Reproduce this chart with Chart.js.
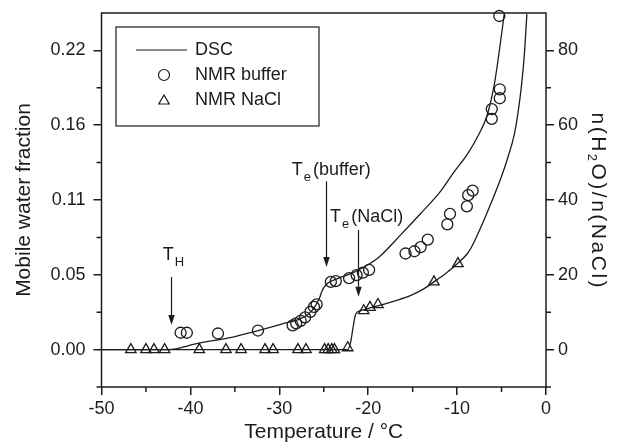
<!DOCTYPE html>
<html>
<head>
<meta charset="utf-8">
<script src="https://cdn.jsdelivr.net/npm/chart.js@4.4.1/dist/chart.umd.min.js"></script>
<style>
  html, body { margin: 0; padding: 0; background: #fff; }
  #wrap { width: 618px; height: 443px; }
</style>
</head>
<body>
<div id="wrap"><canvas id="chart" width="618" height="443"></canvas></div>
<script>
(function () {
  'use strict';

  var INK = '#1c1c1c';
  var FONT = "'Liberation Sans', Arial, Helvetica, sans-serif";

  // axis ticks
  var xMajor = [-50, -40, -30, -20, -10, 0];
  var xMinor = [-45, -35, -25, -15, -5];
  var nMajor = [0, 20, 40, 60, 80];
  var nMinor = [-10, 10, 30, 50, 70];
  var fractionLabels = ['0.00', '0.05', '0.11', '0.16', '0.22'];

  // DSC curves (temperature, n(H2O)/n(NaCl))
  var dscBufferT = [-50, -42.5, -39.2, -35.1, -32.9, -29.5, -27.6, -26.3, -25.5, -25.15, -24.6, -23.45,
    -21.95, -20.45, -18.8, -16.3, -14.1, -11.8, -10.4, -8.8, -7.7, -6.6, -5.8, -5.25, -4.7];
  var dscBufferN = [0, 0, 1.65, 3.4, 4.75, 7.0, 8.3, 10.5, 13.65, 15.9, 17.65, 19.0,
    20.3, 22.1, 24.7, 30.8, 36.4, 42.5, 47.3, 52.4, 56.9, 62.8, 71.1, 79.9, 89.7];

  var dscNaclT = [-50, -22.3, -21.95, -21.75, -21.4, -20.85, -19.7, -18.6, -16.9, -15.2, -13.85, -12.6,
    -11.25, -9.95, -8.9, -8.45, -6.95, -5.05, -4.3, -3.55, -3.15, -2.8, -2.45, -2.15];
  var dscNaclN = [0, 0, 2.3, 5.2, 9.5, 10.4, 11.2, 11.9, 13.1, 14.5, 16.1, 18.1,
    20.4, 23.0, 25.5, 27.1, 34.8, 46.0, 51.3, 57.7, 63.3, 69.7, 78.5, 89.7];

  // NMR points
  var nmrBufferT = [-41.1, -40.4, -36.9, -32.4, -28.5, -28.1, -27.6, -27.1, -26.5, -26.1, -25.8,
    -24.2, -23.65, -22.15, -21.3, -20.6, -19.9, -15.8, -14.8, -14.1, -13.3, -11.1, -10.8,
    -8.9, -8.75, -8.25, -6.1, -6.1, -5.2, -5.2, -5.25];
  var nmrBufferN = [4.5, 4.5, 4.3, 5.1, 6.5, 7.0, 7.7, 8.6, 10.1, 11.4, 12.1,
    18.1, 18.3, 19.1, 19.9, 20.6, 21.3, 25.7, 26.3, 27.4, 29.4, 33.5, 36.3,
    38.3, 41.3, 42.5, 61.7, 64.3, 67.2, 69.6, 89.2];

  var nmrNaclT = [-46.7, -45.0, -44.1, -42.9, -39.0, -36.0, -34.3, -31.6, -30.7, -27.9, -27.0,
    -24.9, -24.5, -24.1, -23.8, -22.3, -20.5, -19.8, -18.9, -12.6, -9.9];
  var nmrNaclN = [0, 0, 0, 0, 0, 0, 0, 0, 0, 0, 0,
    0, 0, 0, 0, 0.5, 10.4, 11.3, 12.05, 18.1, 23.0];

  // arrow notes: label anchor (tx, ty) and arrow at temperature ax from n=from to n=to
  var notes = [
    { main: 'T', sub: 'H', rest: '', tx: -43.1, ty: 24, ax: -42.2, from: 19.4, to: 6.6 },
    { main: 'T', sub: 'e', rest: '(buffer)', tx: -28.6, ty: 46.7, ax: -24.8, from: 45, to: 22.1 },
    { main: 'T', sub: 'e', rest: '(NaCl)', tx: -24.3, ty: 34.1, ax: -21.2, from: 32, to: 14.1 }
  ];

  function pairs(xs, ys) {
    return xs.map(function (x, i) { return { x: x, y: ys[i] }; });
  }

  function setFont(ctx, p) {
    ctx.font = (p.sub ? '13px ' : p.size + 'px ') + FONT;
  }

  // width of a run of text, with optional spacing between letters
  function runWidth(ctx, p) {
    var sp = p.spacing || 0;
    return ctx.measureText(p.t).width + sp * p.t.length;
  }

  // text with a lowered subscript, left aligned on the baseline
  function drawParts(ctx, parts, x, y) {
    parts.forEach(function (p) {
      setFont(ctx, p);
      x += p.pre || 0;
      var sp = p.spacing || 0;
      if (sp) {
        for (var i = 0; i < p.t.length; i++) {
          ctx.fillText(p.t[i], x, y + (p.sub ? 6 : 0));
          x += ctx.measureText(p.t[i]).width + sp;
        }
      } else {
        ctx.fillText(p.t, x, y + (p.sub ? 6 : 0));
        x += ctx.measureText(p.t).width;
      }
      x += p.post || 0;
    });
    return x;
  }

  function partsWidth(ctx, parts) {
    var w = 0;
    parts.forEach(function (p) {
      setFont(ctx, p);
      w += (p.pre || 0) + runWidth(ctx, p) + (p.post || 0);
    });
    return w;
  }

  function strokeCircle(ctx, x, y, r) {
    ctx.beginPath();
    ctx.arc(x, y, r, 0, Math.PI * 2);
    ctx.stroke();
  }

  function strokeTriangle(ctx, x, y, r) {
    ctx.beginPath();
    for (var k = 0; k < 3; k++) {
      var a = k * 2 * Math.PI / 3;
      var px = x + Math.sin(a) * r, py = y - Math.cos(a) * r;
      if (k === 0) ctx.moveTo(px, py); else ctx.lineTo(px, py);
    }
    ctx.closePath();
    ctx.stroke();
  }

  // frame round the plot and the short minor ticks
  var frame = {
    id: 'frame',
    afterDatasetsDraw: function (chart) {
      var ctx = chart.ctx, a = chart.chartArea;
      var sx = chart.scales.x, sr = chart.scales.yR;
      ctx.save();
      ctx.strokeStyle = INK;
      ctx.lineWidth = 1.5;
      ctx.strokeRect(a.left, a.top, a.right - a.left, a.bottom - a.top);
      ctx.beginPath();
      xMinor.forEach(function (v) {
        var px = sx.getPixelForValue(v);
        ctx.moveTo(px, a.bottom);
        ctx.lineTo(px, a.bottom + 5);
      });
      nMinor.forEach(function (v) {
        var py = sr.getPixelForValue(v);
        ctx.moveTo(a.left, py);
        ctx.lineTo(a.left - 5, py);
        ctx.moveTo(a.right, py);
        ctx.lineTo(a.right + 5, py);
      });
      ctx.stroke();
      ctx.restore();
    }
  };

  var arrows = {
    id: 'arrows',
    afterDatasetsDraw: function (chart) {
      var ctx = chart.ctx, sx = chart.scales.x, sr = chart.scales.yR;
      ctx.save();
      ctx.strokeStyle = INK;
      ctx.fillStyle = INK;
      ctx.lineWidth = 1.2;
      ctx.textBaseline = 'alphabetic';
      notes.forEach(function (n) {
        var x = Math.round(sx.getPixelForValue(n.ax)) + 0.5;
        var y0 = sr.getPixelForValue(n.from), y1 = sr.getPixelForValue(n.to);
        ctx.beginPath();
        ctx.moveTo(x, y0);
        ctx.lineTo(x, y1 - 8);
        ctx.stroke();
        ctx.beginPath();
        ctx.moveTo(x, y1);
        ctx.lineTo(x - 3.2, y1 - 10);
        ctx.lineTo(x + 3.2, y1 - 10);
        ctx.closePath();
        ctx.fill();
        drawParts(ctx, [
          { t: n.main, size: 18 },
          { t: n.sub, sub: true, pre: 1, post: 2 },
          { t: n.rest, size: 18 }
        ], sx.getPixelForValue(n.tx), sr.getPixelForValue(n.ty));
      });
      ctx.restore();
    }
  };

  var legendBox = {
    id: 'legendBox',
    afterDraw: function (chart) {
      var ctx = chart.ctx, a = chart.chartArea;
      var bx = a.left + 14.5, by = a.top + 14, bw = 203, bh = 99;
      var sets = chart.data.datasets;
      var rows = [sets[0], sets[2], sets[3]];
      ctx.save();
      ctx.strokeStyle = INK;
      ctx.fillStyle = INK;
      ctx.lineWidth = 1.2;
      ctx.strokeRect(bx, by, bw, bh);
      ctx.font = '18px ' + FONT;
      ctx.textBaseline = 'middle';
      rows.forEach(function (ds, i) {
        var cy = by + 23 + i * 25;
        var cx = bx + 48;
        if (ds.type === 'line') {
          ctx.beginPath();
          ctx.moveTo(bx + 20, cy);
          ctx.lineTo(bx + 71, cy);
          ctx.stroke();
        } else if (ds.pointStyle === 'triangle') {
          strokeTriangle(ctx, cx, cy + 1, ds.pointRadius);
        } else {
          strokeCircle(ctx, cx, cy, ds.pointRadius);
        }
        ctx.fillText(ds.label, bx + 79, cy);
      });
      ctx.restore();
    }
  };

  // right axis title with subscript, rotated to read downwards
  var rightTitle = {
    id: 'rightTitle',
    afterDraw: function (chart) {
      var ctx = chart.ctx, a = chart.chartArea;
      var parts = [
        { t: 'n(H', size: 21, spacing: 2.5 },
        { t: '2', sub: true, post: 2.5 },
        { t: 'O)/n(NaCl)', size: 21, spacing: 2.5 }
      ];
      ctx.save();
      ctx.fillStyle = INK;
      ctx.textBaseline = 'middle';
      ctx.translate(a.right + 52, (a.top + a.bottom) / 2);
      ctx.rotate(Math.PI / 2);
      var w = partsWidth(ctx, parts) - 2.5;
      drawParts(ctx, parts, -w / 2, 0);
      ctx.restore();
    }
  };

  // keep the plot box where the layout puts it, without room for half labels
  function noEdgePadding(s) {
    s.paddingTop = 0;
    s.paddingBottom = 0;
  }

  var tickFont = { family: FONT, size: 18 };
  var gridOpts = { drawOnChartArea: false, tickLength: 8, color: INK, lineWidth: 1.5 };

  new Chart(document.getElementById('chart'), {
    type: 'scatter',
    data: {
      datasets: [
        {
          type: 'line', label: 'DSC', data: pairs(dscBufferT, dscBufferN), yAxisID: 'yR',
          borderColor: INK, borderWidth: 1.3, pointRadius: 0, fill: false,
          cubicInterpolationMode: 'monotone'
        },
        {
          type: 'line', label: 'DSC', data: pairs(dscNaclT, dscNaclN), yAxisID: 'yR',
          borderColor: INK, borderWidth: 1.3, pointRadius: 0, fill: false,
          cubicInterpolationMode: 'monotone'
        },
        {
          label: 'NMR buffer', data: pairs(nmrBufferT, nmrBufferN), yAxisID: 'yR',
          pointStyle: 'circle', pointRadius: 5.5, pointBorderWidth: 1.3,
          pointBorderColor: INK, pointBackgroundColor: 'rgba(255,255,255,0)', clip: false
        },
        {
          label: 'NMR NaCl', data: pairs(nmrNaclT, nmrNaclN), yAxisID: 'yR',
          pointStyle: 'triangle', pointRadius: 6, pointBorderWidth: 1.3,
          pointBorderColor: INK, pointBackgroundColor: 'rgba(255,255,255,0)', clip: false
        }
      ]
    },
    options: {
      responsive: false,
      animation: false,
      devicePixelRatio: 1,
      layout: { padding: { top: 13, left: 0, right: 0, bottom: 0 } },
      plugins: { legend: { display: false }, tooltip: { enabled: false } },
      scales: {
        x: {
          type: 'linear', position: 'bottom', min: -50, max: 0,
          afterBuildTicks: function (s) { s.ticks = xMajor.map(function (v) { return { value: v }; }); },
          afterFit: function (s) { s.height = 56; s.paddingLeft = 0; s.paddingRight = 0; },
          ticks: { color: INK, font: tickFont, padding: 3, maxRotation: 0, autoSkip: false },
          grid: gridOpts,
          border: { display: false },
          title: {
            display: true, text: 'Temperature / °C', color: INK,
            font: { family: FONT, size: 21 }, padding: { top: 0, bottom: -2 }
          }
        },
        y: {
          type: 'linear', position: 'left', min: -10, max: 90,
          afterBuildTicks: function (s) { s.ticks = nMajor.map(function (v) { return { value: v }; }); },
          afterFit: function (s) { s.width = 101.5; noEdgePadding(s); },
          ticks: {
            color: INK, font: tickFont, padding: 8,
            callback: function (v, i) { return fractionLabels[i]; }
          },
          grid: gridOpts,
          border: { display: false },
          title: {
            display: true, text: 'Mobile water fraction', color: INK,
            font: { family: FONT, size: 21 }, padding: { top: 12, bottom: 0 }
          }
        },
        yR: {
          type: 'linear', position: 'right', min: -10, max: 90,
          afterBuildTicks: function (s) { s.ticks = nMajor.map(function (v) { return { value: v }; }); },
          afterFit: function (s) { s.width = 72; noEdgePadding(s); },
          ticks: { color: INK, font: tickFont, padding: 4 },
          grid: gridOpts,
          border: { display: false }
        }
      }
    },
    plugins: [frame, arrows, legendBox, rightTitle]
  });
})();
</script>
</body>
</html>
